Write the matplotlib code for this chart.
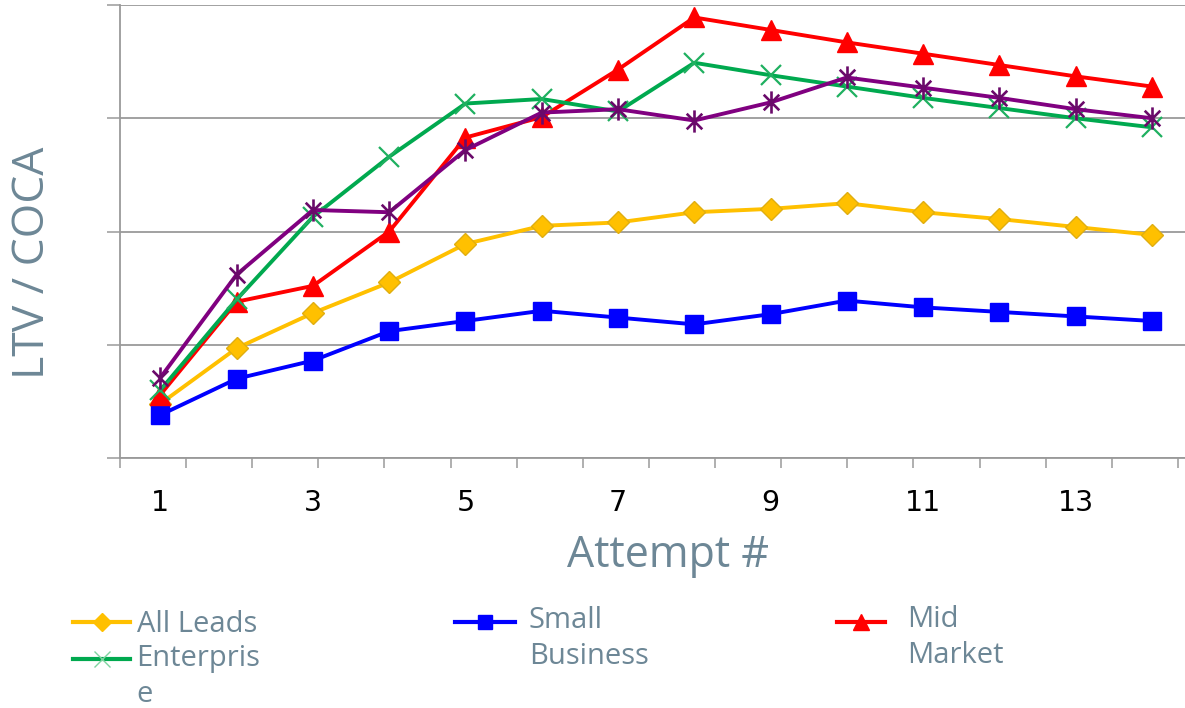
import numpy as np
import matplotlib
matplotlib.use("Agg")
import matplotlib.pyplot as plt
from matplotlib.lines import Line2D
from matplotlib.path import Path

# ---------------- data ----------------
attempts = list(range(1, 15))
all_leads = [0.48, 0.97, 1.28, 1.55, 1.89, 2.05, 2.08, 2.17, 2.20, 2.25, 2.17, 2.11, 2.04, 1.97]
small_business = [0.38, 0.70, 0.86, 1.12, 1.21, 1.30, 1.24, 1.18, 1.27, 1.39, 1.33, 1.29, 1.25, 1.21]
mid_market = [0.56, 1.38, 1.52, 2.00, 2.83, 3.01, 3.43, 3.89, 3.78, 3.67, 3.57, 3.47, 3.37, 3.28]
enterprise = [0.60, 1.40, 2.13, 2.66, 3.13, 3.17, 3.06, 3.49, 3.38, 3.28, 3.18, 3.09, 3.00, 2.92]
other = [0.71, 1.62, 2.19, 2.17, 2.72, 3.05, 3.08, 2.98, 3.14, 3.36, 3.27, 3.18, 3.08, 3.00]
xtick_labels = ["1", "3", "5", "7", "9", "11", "13"]
legend_labels = ["All Leads", "Enterpris\ne", "Small\nBusiness", "Mid\nMarket"]

# ---------------- style ----------------
W, H = 1185, 708
fig = plt.figure(figsize=(W / 100, H / 100), dpi=100)

def fx(px):
    return px / W

def fy(py):
    return 1 - py / H

ax = fig.add_axes([fx(120), fy(458), fx(1190) - fx(120), fy(5) - fy(458)])
ax.set_xlim(0.5, 14.5)
ax.set_ylim(0, 4)

grey = "#9a9a9a"
txt_col = "#6d8796"

ax.set_yticks([0, 1, 2, 3, 4])
ax.set_yticklabels([])
ax.yaxis.grid(True, color=grey, linewidth=1.3)
ax.tick_params(axis="y", direction="out", length=9.5, width=1.1, color=grey)
for s in ["top", "right"]:
    ax.spines[s].set_visible(False)
for s in ["left", "bottom"]:
    ax.spines[s].set_color(grey)
    ax.spines[s].set_linewidth(1.3)

ax.set_xticks([int(t) for t in xtick_labels])
ax.set_xticklabels(xtick_labels, fontsize=20.5, family="DejaVu Sans", color="black")
ax.tick_params(axis="x", which="major", length=0, pad=22)
ax.set_xticks(0.47 + np.arange(17) * 0.867, minor=True)
ax.tick_params(axis="x", which="minor", direction="out", length=7.5, width=1.1, color=grey)

# asterisk marker (x plus vertical bar), like Excel's star
ast = Path([(-0.7, -0.7), (0.7, 0.7), (-0.7, 0.7), (0.7, -0.7), (0, -1), (0, 1)],
           [Path.MOVETO, Path.LINETO, Path.MOVETO, Path.LINETO, Path.MOVETO, Path.LINETO])

ax.plot(attempts, all_leads, color="#ffc000", lw=2.8, marker="D", ms=11,
        mec="#e0ae10", mfc="#ffc000", zorder=3)
ax.plot(attempts, small_business, color="#0000ff", lw=2.8, marker="s", ms=13,
        mfc="#0000ff", mec="#0000ff", zorder=3)
ax.plot(attempts, mid_market, color="#ff0000", lw=2.8, marker="^", ms=15,
        mfc="#ff0000", mec="#ff0000", zorder=3)
ax.plot(attempts, enterprise, color="#00a94f", lw=2.8, marker="x", ms=14,
        mew=1.6, mec="#1fb060", zorder=3)
ax.plot(attempts, other, color="#800080", lw=2.8, marker=ast, ms=16,
        mew=1.9, mec="#6a0a6a", zorder=4)

# axis titles
fig.text(fx(668), fy(567), "Attempt #", family="Open Sans", fontsize=31,
         color=txt_col, ha="center", va="baseline")
fig.text(fx(33), fy(263), "LTV / COCA", family="Open Sans", fontsize=32,
         color=txt_col, ha="center", va="center", rotation=90)

# legend (manual, matching the wrapped layout)
leg_specs = [
    # (handle x0, x1, y, text x, first baseline, color, marker, ms, kwargs)
    (73, 130, 622, 137, 632, "#ffc000", "D", 9, dict(mfc="#ffc000", mec="#ffc000")),
    (73, 130, 659, 136, 666, "#00a94f", "x", 11, dict(mec="#7fd3a0", mew=1.0)),
    (455, 515, 622, 529, 628, "#0000ff", "s", 10, dict(mfc="#0000ff", mec="#0000ff")),
    (837, 885, 622, 907, 627, "#ff0000", "^", 11, dict(mfc="#ff0000", mec="#ff0000")),
]
for (x0, x1, y, tx, tb, c, m, ms, kw), lab in zip(leg_specs, legend_labels):
    fig.add_artist(Line2D([fx(x0), fx(x1)], [fy(y), fy(y)], color=c, lw=3,
                          transform=fig.transFigure))
    fig.add_artist(Line2D([fx((x0 + x1) / 2)], [fy(y)], color=c, marker=m, ms=ms,
                          ls="none", transform=fig.transFigure, **kw))
    for i, line in enumerate(lab.split("\n")):
        fig.text(fx(tx), fy(tb + 36 * i), line, family="Open Sans", fontsize=21,
                 color=txt_col, ha="left", va="baseline")

fig.savefig("out.png", dpi=100)
